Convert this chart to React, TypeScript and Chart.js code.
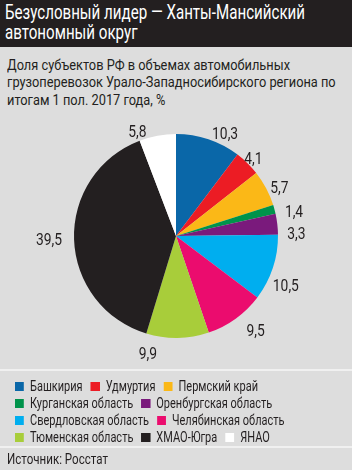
import React, { useEffect, useMemo, useRef } from "react";
import { Chart, registerables } from "chart.js";

Chart.register(...registerables);

const title = ["Безусловный лидер — Ханты-Мансийский", "автономный округ"];
const subtitle = [
  "Доля субъектов РФ в объемах автомобильных",
  "грузоперевозок Урало-Западносибирского региона по",
  "итогам 1 пол. 2017 года, %",
];
const regions = [
  "Башкирия",
  "Удмуртия",
  "Пермский край",
  "Курганская область",
  "Оренбургская область",
  "Свердловская область",
  "Челябинская область",
  "Тюменская область",
  "ХМАО-Югра",
  "ЯНАО",
];
const shares = [10.3, 4.1, 5.7, 1.4, 3.3, 10.5, 9.5, 9.9, 39.5, 5.8];
const valueLabels = ["10,3", "4,1", "5,7", "1,4", "3,3", "10,5", "9,5", "9,9", "39,5", "5,8"];
const colors = [
  "#0a67a8",
  "#ec1c24",
  "#fbb817",
  "#00934b",
  "#7a1a7c",
  "#00aeef",
  "#eb0c6e",
  "#a8cd3a",
  "#231f20",
  "#ffffff",
];
const source = "Источник: Росстат";

// label nudges (px) relative to the outward-anchored mid-angle position
const labelNudge = [
  [10, 9], [-6, 7], [-2, 7], [3, 7], [2, 12], [-7, 15], [10, 2], [-30, 3], [-4, 1], [-17, 11],
];

const FONT = 'Roboto, "Noto Sans", sans-serif';

let measureCtx: CanvasRenderingContext2D | null = null;
function textWidth(text: string, size: number): number {
  if (!measureCtx) measureCtx = document.createElement("canvas").getContext("2d");
  if (!measureCtx) return 1;
  measureCtx.font = `${size}px ${FONT}`;
  return measureCtx.measureText(text).width || 1;
}
// condense factor so that a string of a given font size spans the width seen in the reference
const fit = (text: string, size: number, target: number) => target / textWidth(text, size);

const outerLabels = {
  id: "outerLabels",
  afterDatasetsDraw(chart: any) {
    const ctx = chart.ctx;
    const meta = chart.getDatasetMeta(0);
    const sx = fit("10,3", 16, 26);
    ctx.save();
    ctx.font = `16px ${FONT}`;
    ctx.fillStyle = "#231f20";
    ctx.textAlign = "center";
    ctx.textBaseline = "middle";
    meta.data.forEach((arc: any, i: number) => {
      const { x, y, startAngle, endAngle, outerRadius } = arc.getProps(
        ["x", "y", "startAngle", "endAngle", "outerRadius"],
        true
      );
      const mid = (startAngle + endAngle) / 2;
      const cos = Math.cos(mid);
      const sin = Math.sin(mid);
      const ax = x + cos * (outerRadius + 8);
      const ay = y + sin * (outerRadius + 8);
      const text = valueLabels[i];
      const w = ctx.measureText(text).width * sx;
      const h = 12;
      const cx = ax + cos * (w / 2) + labelNudge[i][0];
      const cy = ay + sin * (h / 2) + labelNudge[i][1];
      ctx.save();
      ctx.translate(cx, cy);
      ctx.scale(sx, 1);
      ctx.fillText(text, 0, 0);
      ctx.restore();
    });
    ctx.restore();
  },
};

function PieChart() {
  const ref = useRef<HTMLCanvasElement | null>(null);
  useEffect(() => {
    if (!ref.current) return;
    const chart = new Chart(ref.current, {
      type: "pie",
      data: {
        labels: regions,
        datasets: [
          {
            data: shares,
            backgroundColor: colors,
            borderWidth: 0,
            hoverOffset: 0,
          },
        ],
      },
      options: {
        animation: false,
        responsive: false,
        maintainAspectRatio: false,
        radius: 102,
        layout: { padding: { left: 74, right: 74, top: 19, bottom: 32 } },
        plugins: {
          legend: { display: false },
          tooltip: { enabled: false },
        },
      } as any,
      plugins: [outerLabels],
    });
    return () => chart.destroy();
  }, []);
  return (
    <canvas
      ref={ref}
      width={352}
      height={255}
      style={{ position: "absolute", left: 0, top: 115, width: 352, height: 255 }}
    />
  );
}

const narrow = (left: number, top: number, sx: number): React.CSSProperties => ({
  position: "absolute",
  left,
  top,
  transform: `scaleX(${sx})`,
  transformOrigin: "0 0",
  whiteSpace: "nowrap",
});

export default function App() {
  useEffect(() => {
    document.body.style.margin = "0";
  }, []);
  const s = useMemo(
    () => ({
      title: fit(title[0], 19.5, 300),
      sub: fit(subtitle[0], 15, 283),
      legend: fit(regions[5], 15, 119),
      source: fit(source, 15, 101),
    }),
    []
  );
  const L = s.legend;
  return (
    <div
      style={{
        position: "relative",
        width: 352,
        height: 470,
        background: "#dddddd",
        fontFamily: FONT,
        color: "#231f20",
        overflow: "hidden",
      }}
    >
      <div style={{ position: "absolute", left: 0, top: 0, width: 352, height: 47, background: "#231f20" }} />
      <div style={{ ...narrow(5, 3, s.title), color: "#ffffff", fontSize: 19.5, lineHeight: "19.5px" }}>
        {title.map((t, i) => (
          <div key={i}>{t}</div>
        ))}
      </div>
      <div style={{ ...narrow(7, 57, s.sub), fontSize: 15, lineHeight: "17.4px" }}>
        {subtitle.map((t, i) => (
          <div key={i}>{t}</div>
        ))}
      </div>
      <PieChart />
      <div style={{ position: "absolute", left: 0, top: 369, width: 352, height: 2, background: "#f0f0f0" }} />
      <div
        style={{
          ...narrow(15, 377.5, L),
          width: 330 / L,
          display: "flex",
          flexWrap: "wrap",
          fontSize: 15,
          lineHeight: "17px",
          whiteSpace: "normal",
        }}
      >
        {regions.map((r, i) => (
          <div
            key={i}
            style={{ display: "flex", alignItems: "center", marginRight: 8 / L, whiteSpace: "nowrap" }}
          >
            <span
              style={{
                display: "inline-block",
                width: 9 / L,
                height: 9,
                background: colors[i],
                marginRight: 6 / L,
              }}
            />
            <span>{r}</span>
          </div>
        ))}
      </div>
      <div style={{ position: "absolute", left: 0, top: 446, width: 352, height: 2, background: "#f0f0f0" }} />
      <div style={{ ...narrow(7, 451, s.source), fontSize: 15, lineHeight: "17px" }}>{source}</div>
    </div>
  );
}
